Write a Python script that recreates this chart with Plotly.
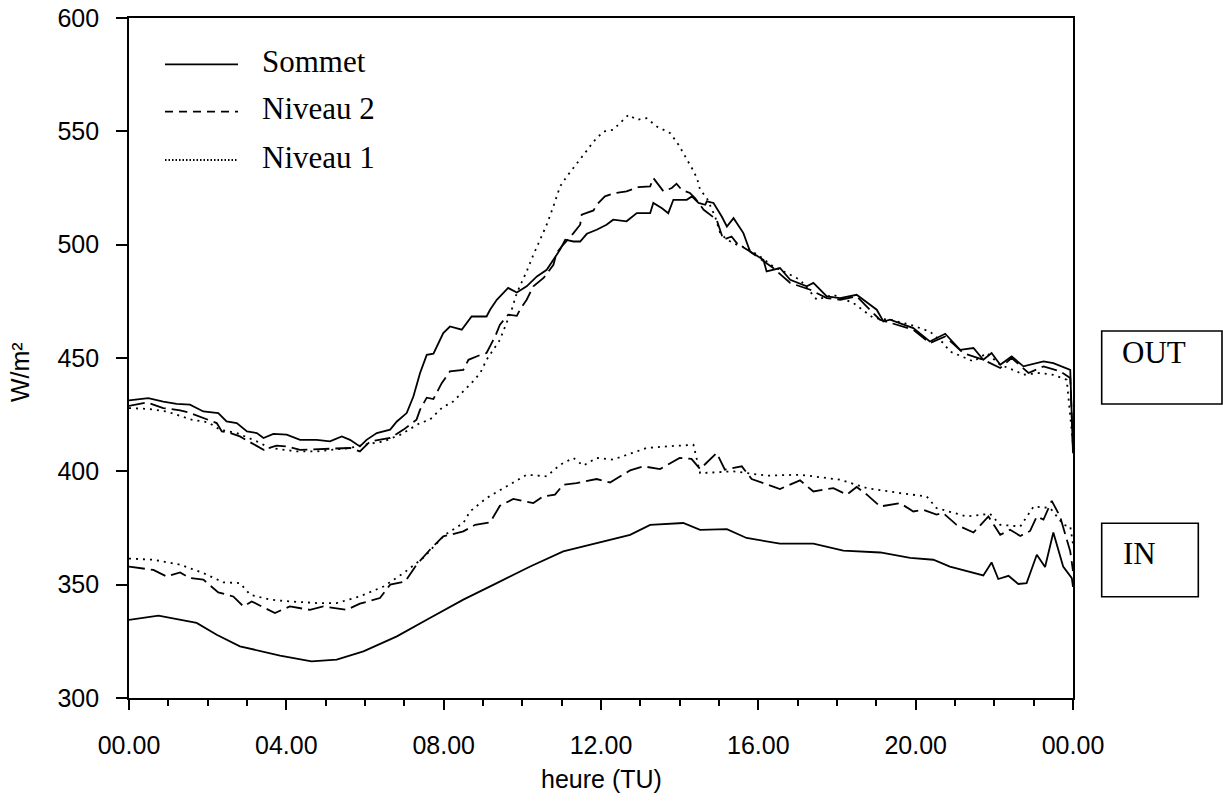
import plotly.graph_objects as go

# ---------------- data (hours UT, W/m²) ----------------
sommet_out_h = [0.0, 0.49, 0.87, 1.21, 1.55, 1.89, 2.27, 2.48, 2.74, 3.0, 3.25, 3.42, 3.67, 4.01, 4.35, 4.77,
                5.11, 5.41, 5.62, 5.87, 6.04, 6.3, 6.64, 6.81, 7.06, 7.23, 7.4, 7.57, 7.74, 7.99, 8.16, 8.46,
                8.71, 9.09, 9.18, 9.35, 9.64, 9.86, 10.11, 10.37, 10.62, 10.79, 10.96, 11.09, 11.3, 11.47,
                11.64, 11.89, 12.14, 12.31, 12.65, 12.91, 13.25, 13.33, 13.55, 13.71, 13.84, 14.18, 14.31,
                14.48, 14.65, 14.69, 14.86, 15.07, 15.2, 15.37, 15.62, 15.79, 16.13, 16.21, 16.55, 16.81,
                17.23, 17.4, 17.74, 18.08, 18.5, 19.01, 19.18, 19.35, 19.94, 20.36, 20.75, 21.13, 21.47,
                21.72, 21.93, 22.15, 22.44, 22.74, 23.25, 23.5, 23.93, 24.0]
sommet_out = [431.3, 432.3, 430.8, 429.8, 429.4, 426.4, 425.7, 422.0, 421.3, 417.6, 416.9, 414.7, 416.5, 416.2,
              413.9, 413.9, 413.2, 415.4, 413.9, 411.0, 413.9, 416.9, 418.4, 422.0, 425.7, 433.0, 443.4, 451.4,
              451.9, 461.0, 463.9, 462.5, 468.3, 468.3, 471.3, 475.7, 480.9, 478.9, 481.6, 486.0, 488.9, 493.3,
              497.8, 502.2, 501.4, 501.4, 504.8, 506.6, 508.8, 511.0, 510.3, 513.9, 513.9, 518.4, 516.1, 513.9,
              519.8, 519.8, 521.3, 518.4, 517.6, 519.1, 518.4, 512.4, 508.0, 511.7, 505.1, 497.0, 493.3, 488.2,
              489.7, 484.5, 481.6, 483.1, 477.2, 476.4, 477.9, 471.3, 466.1, 466.9, 463.2, 457.3, 460.7, 453.6,
              454.4, 449.2, 452.2, 447.0, 450.7, 446.3, 448.5, 447.7, 444.8, 408.0]

niv2_out_h = [0.0, 0.45, 0.87, 1.3, 1.51, 1.8, 2.23, 2.36, 2.57, 2.82, 3.12, 3.42, 3.75, 4.01, 4.35, 4.77, 5.28,
              5.62, 5.87, 6.13, 6.64, 6.98, 7.31, 7.4, 7.57, 7.74, 7.95, 8.16, 8.5, 8.63, 8.88, 9.09, 9.22,
              9.31, 9.43, 9.64, 9.86, 9.94, 10.11, 10.28, 10.54, 10.79, 10.87, 11.0, 11.3, 11.47, 11.51, 11.81,
              11.89, 12.1, 12.36, 12.65, 12.95, 13.25, 13.33, 13.59, 13.8, 13.92, 14.05, 14.26, 14.39, 14.61,
              14.94, 15.11, 15.32, 15.45, 15.75, 16.13, 16.38, 16.81, 17.32, 17.74, 18.08, 18.5, 19.09, 19.94,
              20.36, 20.75, 21.21, 21.72, 22.15, 22.44, 22.87, 23.25, 23.67, 23.93, 24.0]
niv2_out = [428.9, 430.4, 427.9, 426.9, 426.0, 424.0, 421.3, 417.6, 416.9, 415.4, 412.5, 409.5, 411.3, 411.0,
            409.5, 409.8, 410.3, 410.3, 408.8, 413.2, 414.7, 418.4, 422.8, 427.2, 432.5, 431.9, 438.9, 444.1,
            444.8, 449.2, 451.0, 452.2, 456.6, 459.5, 464.7, 469.1, 468.6, 471.3, 475.7, 481.6, 485.3, 491.1,
            496.3, 499.2, 505.1, 508.8, 513.2, 515.1, 517.6, 521.3, 522.8, 523.5, 525.4, 525.7, 529.4, 523.5,
            525.0, 526.9, 524.2, 522.8, 520.6, 515.4, 511.0, 502.2, 503.6, 500.7, 497.4, 492.6, 489.7, 483.1,
            480.1, 476.4, 475.7, 477.2, 466.9, 462.5, 456.6, 459.5, 452.2, 449.2, 445.6, 450.0, 443.4, 446.3,
            444.1, 441.2, 410.0]

niv1_out_h = [0.0, 0.53, 0.96, 1.59, 2.02, 2.31, 2.74, 3.25, 3.58, 3.92, 4.26, 4.77, 5.28, 5.62, 5.96, 6.47,
              6.89, 7.4, 7.65, 7.99, 8.2, 8.45, 8.71, 8.93, 9.09, 9.43, 9.73, 9.86, 10.11, 10.28, 10.45, 10.62,
              10.79, 10.96, 11.13, 11.38, 11.59, 11.81, 12.06, 12.31, 12.48, 12.7, 12.91, 13.16, 13.42, 13.76,
              13.97, 14.1, 14.31, 14.44, 14.52, 14.69, 14.9, 15.03, 15.2, 15.45, 15.71, 16.04, 16.38, 16.81,
              17.06, 17.49, 17.91, 18.42, 18.76, 18.93, 19.35, 19.86, 20.36, 20.7, 20.87, 21.47, 21.81, 22.15,
              22.57, 22.74, 23.16, 23.5, 23.84, 24.0]
niv1_out = [427.9, 427.5, 426.4, 422.8, 421.6, 418.4, 416.9, 413.2, 410.3, 409.5, 408.8, 408.8, 409.5, 410.3,
            411.7, 413.2, 416.1, 421.3, 422.8, 428.6, 430.1, 434.5, 439.0, 443.4, 449.2, 458.0, 471.3, 478.7,
            488.2, 495.5, 502.2, 508.8, 516.9, 525.7, 530.1, 536.0, 540.4, 545.5, 549.9, 550.7, 553.6, 557.3,
            555.1, 555.8, 552.1, 549.2, 544.1, 540.4, 533.8, 529.4, 524.2, 520.6, 512.4, 505.1, 502.2, 500.0,
            498.5, 494.8, 490.4, 486.7, 484.5, 475.7, 477.9, 474.2, 469.8, 467.6, 466.9, 464.7, 461.7, 456.6,
            452.9, 448.5, 452.2, 447.0, 444.1, 442.6, 443.4, 442.6, 440.4, 412.0]

sommet_in_h = [0.0, 0.75, 1.72, 2.23, 2.82, 3.84, 4.64, 5.28, 5.96, 6.81, 7.65, 8.5, 9.35, 10.2, 11.04, 11.89,
               12.74, 13.25, 14.09, 14.52, 15.2, 15.7, 16.55, 17.4, 18.16, 19.1, 19.86, 20.45, 20.87, 21.72,
               21.93, 22.1, 22.36, 22.61, 22.82, 23.08, 23.29, 23.5, 23.75, 23.97, 24.0]
sommet_in = [334.5, 336.3, 333.1, 327.9, 322.8, 318.7, 316.2, 316.9, 320.6, 327.2, 335.3, 343.4, 350.7, 358.0,
             364.7, 368.4, 372.0, 376.4, 377.2, 374.2, 374.5, 370.6, 368.1, 368.1, 365.0, 364.2, 361.8, 361.0,
             358.0, 354.1, 359.8, 352.5, 353.9, 350.3, 350.7, 363.2, 357.8, 373.0, 358.0, 352.9, 349.0]

niv2_in_h = [0.0, 0.62, 0.96, 1.3, 1.55, 1.89, 2.27, 2.65, 2.91, 3.12, 3.71, 4.09, 4.6, 4.94, 5.53, 5.87, 6.38,
             6.64, 7.02, 7.31, 7.65, 7.99, 8.5, 8.8, 9.18, 9.43, 9.77, 10.28, 10.53, 10.83, 11.04, 11.38, 11.89,
             12.23, 12.74, 13.08, 13.5, 14.0, 14.3, 14.52, 14.94, 15.15, 15.58, 15.83, 16.13, 16.55, 17.06,
             17.4, 17.91, 18.25, 18.5, 18.76, 19.1, 19.6, 19.94, 20.2, 20.53, 20.7, 21.04, 21.47, 21.85, 22.15,
             22.4, 22.66, 22.91, 23.08, 23.25, 23.46, 23.67, 23.93, 24.0]
niv2_in = [358.0, 356.5, 353.6, 355.4, 352.9, 352.2, 346.6, 344.8, 340.4, 342.6, 337.5, 340.4, 338.9, 340.4,
           338.9, 341.6, 344.1, 350.0, 351.4, 358.8, 365.4, 371.3, 373.5, 376.4, 377.5, 384.8, 387.8, 386.0,
           388.9, 389.7, 394.1, 394.8, 396.6, 395.1, 400.4, 402.2, 401.0, 405.9, 405.5, 401.0, 408.1, 400.7,
           402.2, 396.6, 394.8, 392.2, 396.0, 391.1, 392.6, 389.7, 393.1, 389.7, 384.5, 386.0, 382.3, 383.0,
           380.9, 381.6, 376.4, 373.0, 380.1, 372.0, 374.2, 371.5, 373.7, 380.1, 378.7, 387.0, 380.1, 364.7,
           356.0]

niv1_in_h = [0.0, 0.62, 1.3, 1.89, 2.4, 2.82, 3.08, 3.58, 4.09, 4.77, 5.28, 5.87, 6.47, 6.98, 7.48, 8.03, 8.5,
             8.67, 9.09, 9.6, 10.11, 10.62, 10.96, 11.3, 11.55, 11.89, 12.31, 12.78, 13.16, 13.67, 14.35, 14.52,
             15.37, 16.21, 17.06, 18.08, 18.76, 19.6, 20.28, 20.53, 21.3, 21.89, 22.15, 22.66, 23.0, 23.42,
             23.76, 23.93, 24.0]
niv1_in = [361.5, 361.0, 358.8, 355.1, 351.0, 350.7, 345.6, 343.4, 342.6, 341.9, 341.9, 344.8, 349.2, 355.1,
           361.8, 372.0, 377.2, 382.3, 388.2, 393.3, 398.5, 397.8, 402.9, 405.9, 402.5, 405.9, 405.2, 408.0,
           410.3, 411.0, 411.7, 399.2, 400.0, 398.1, 398.5, 396.3, 392.6, 390.4, 388.9, 383.8, 380.1, 381.3,
           376.4, 375.7, 384.5, 383.8, 376.4, 375.7, 368.0]

tick_hours = [0, 4, 8, 12, 16, 20, 24]
tick_labels = ["00.00", "04.00", "08.00", "12.00", "16.00", "20.00", "00.00"]
y_ticks = [300, 350, 400, 450, 500, 550, 600]
legend_names = ["Sommet", "Niveau 2", "Niveau 1"]

# ---------------- styling ----------------
W, H = 1223, 805
L, R, T, B = 129, 150, 18, 107
PW, PH = W - L - R, H - T - B

def px(x):
    return (x - L) / PW

def py(y):
    return (H - B - y) / PH

SANS = "Liberation Sans, Arial, sans-serif"
SERIF = "Liberation Serif, Times New Roman, serif"
LW = 1.8
DASH = "16px,6px"
DOT = "2px,5px"

fig = go.Figure()
series = [
    (sommet_out_h, sommet_out, "solid", legend_names[0]),
    (niv2_out_h, niv2_out, DASH, legend_names[1]),
    (niv1_out_h, niv1_out, DOT, legend_names[2]),
    (sommet_in_h, sommet_in, "solid", legend_names[0]),
    (niv2_in_h, niv2_in, DASH, legend_names[1]),
    (niv1_in_h, niv1_in, DOT, legend_names[2]),
]
for xs, ys, dash, name in series:
    fig.add_trace(go.Scatter(x=xs, y=ys, mode="lines", name=name, showlegend=False,
                             line=dict(color="black", width=LW, dash=dash),
                             hoverinfo="skip"))

axis_common = dict(showline=True, linecolor="black", linewidth=1.7, mirror=True,
                   showgrid=False, zeroline=False, ticks="outside", tickcolor="black",
                   tickwidth=1.5, tickfont=dict(family=SANS, size=25, color="black"))

fig.update_xaxes(range=[0, 24], tickmode="array", tickvals=tick_hours, ticktext=tick_labels,
                 ticklen=10, ticklabelstandoff=14,
                 minor=dict(ticks="outside", dtick=1, tick0=0, ticklen=6, tickwidth=1.5, tickcolor="black"),
                 **axis_common)
fig.update_yaxes(range=[300, 600], tickmode="array", tickvals=y_ticks, ticklen=11,
                 ticklabelstandoff=12, **axis_common)

shapes = []
annotations = []
# legend drawn as line samples + labels
leg_rows = [64.3, 111.7, 160.0]
leg_dash = ["solid", "8px,6px", "1.5px,2px"]
for name, yy, d in zip(legend_names, leg_rows, leg_dash):
    shapes.append(dict(type="line", xref="paper", yref="paper", x0=px(165), x1=px(238), y0=py(yy), y1=py(yy),
                       line=dict(color="black", width=LW, dash=d)))
    annotations.append(dict(text=name, xref="paper", yref="paper", x=px(260), y=py(yy - 3),
                            xanchor="left", yanchor="middle", showarrow=False,
                            font=dict(family=SERIF, size=31, color="black")))

# OUT / IN boxes
boxes = [("OUT", 1101.7, 1222.0, 331.0, 404.0, 1120.0, 352.0),
         ("IN", 1101.7, 1198.3, 523.3, 596.7, 1120.5, 553.5)]
for txt, x0, x1, y0, y1, tx, ty in boxes:
    shapes.append(dict(type="rect", xref="paper", yref="paper", x0=px(x0), x1=px(x1), y0=py(y1), y1=py(y0),
                       line=dict(color="black", width=1.6), fillcolor="rgba(0,0,0,0)"))
    annotations.append(dict(text=txt, xref="paper", yref="paper", x=px(tx), y=py(ty),
                            xanchor="left", yanchor="middle", showarrow=False,
                            font=dict(family=SERIF, size=31, color="black")))

# axis titles
annotations.append(dict(text="heure (TU)", xref="paper", yref="paper", x=0.5, y=py(779),
                        xanchor="center", yanchor="middle", showarrow=False,
                        font=dict(family=SANS, size=25, color="black")))
annotations.append(dict(text="W/m²", xref="paper", yref="paper", x=px(20), y=py(372),
                        xanchor="center", yanchor="middle", showarrow=False, textangle=-90,
                        font=dict(family=SANS, size=25, color="black")))

fig.update_layout(width=W, height=H, margin=dict(l=L, r=R, t=T, b=B, autoexpand=False),
                  paper_bgcolor="white", plot_bgcolor="white", showlegend=False,
                  shapes=shapes, annotations=annotations)

fig.write_html("out.html", config={"displayModeBar": False})
